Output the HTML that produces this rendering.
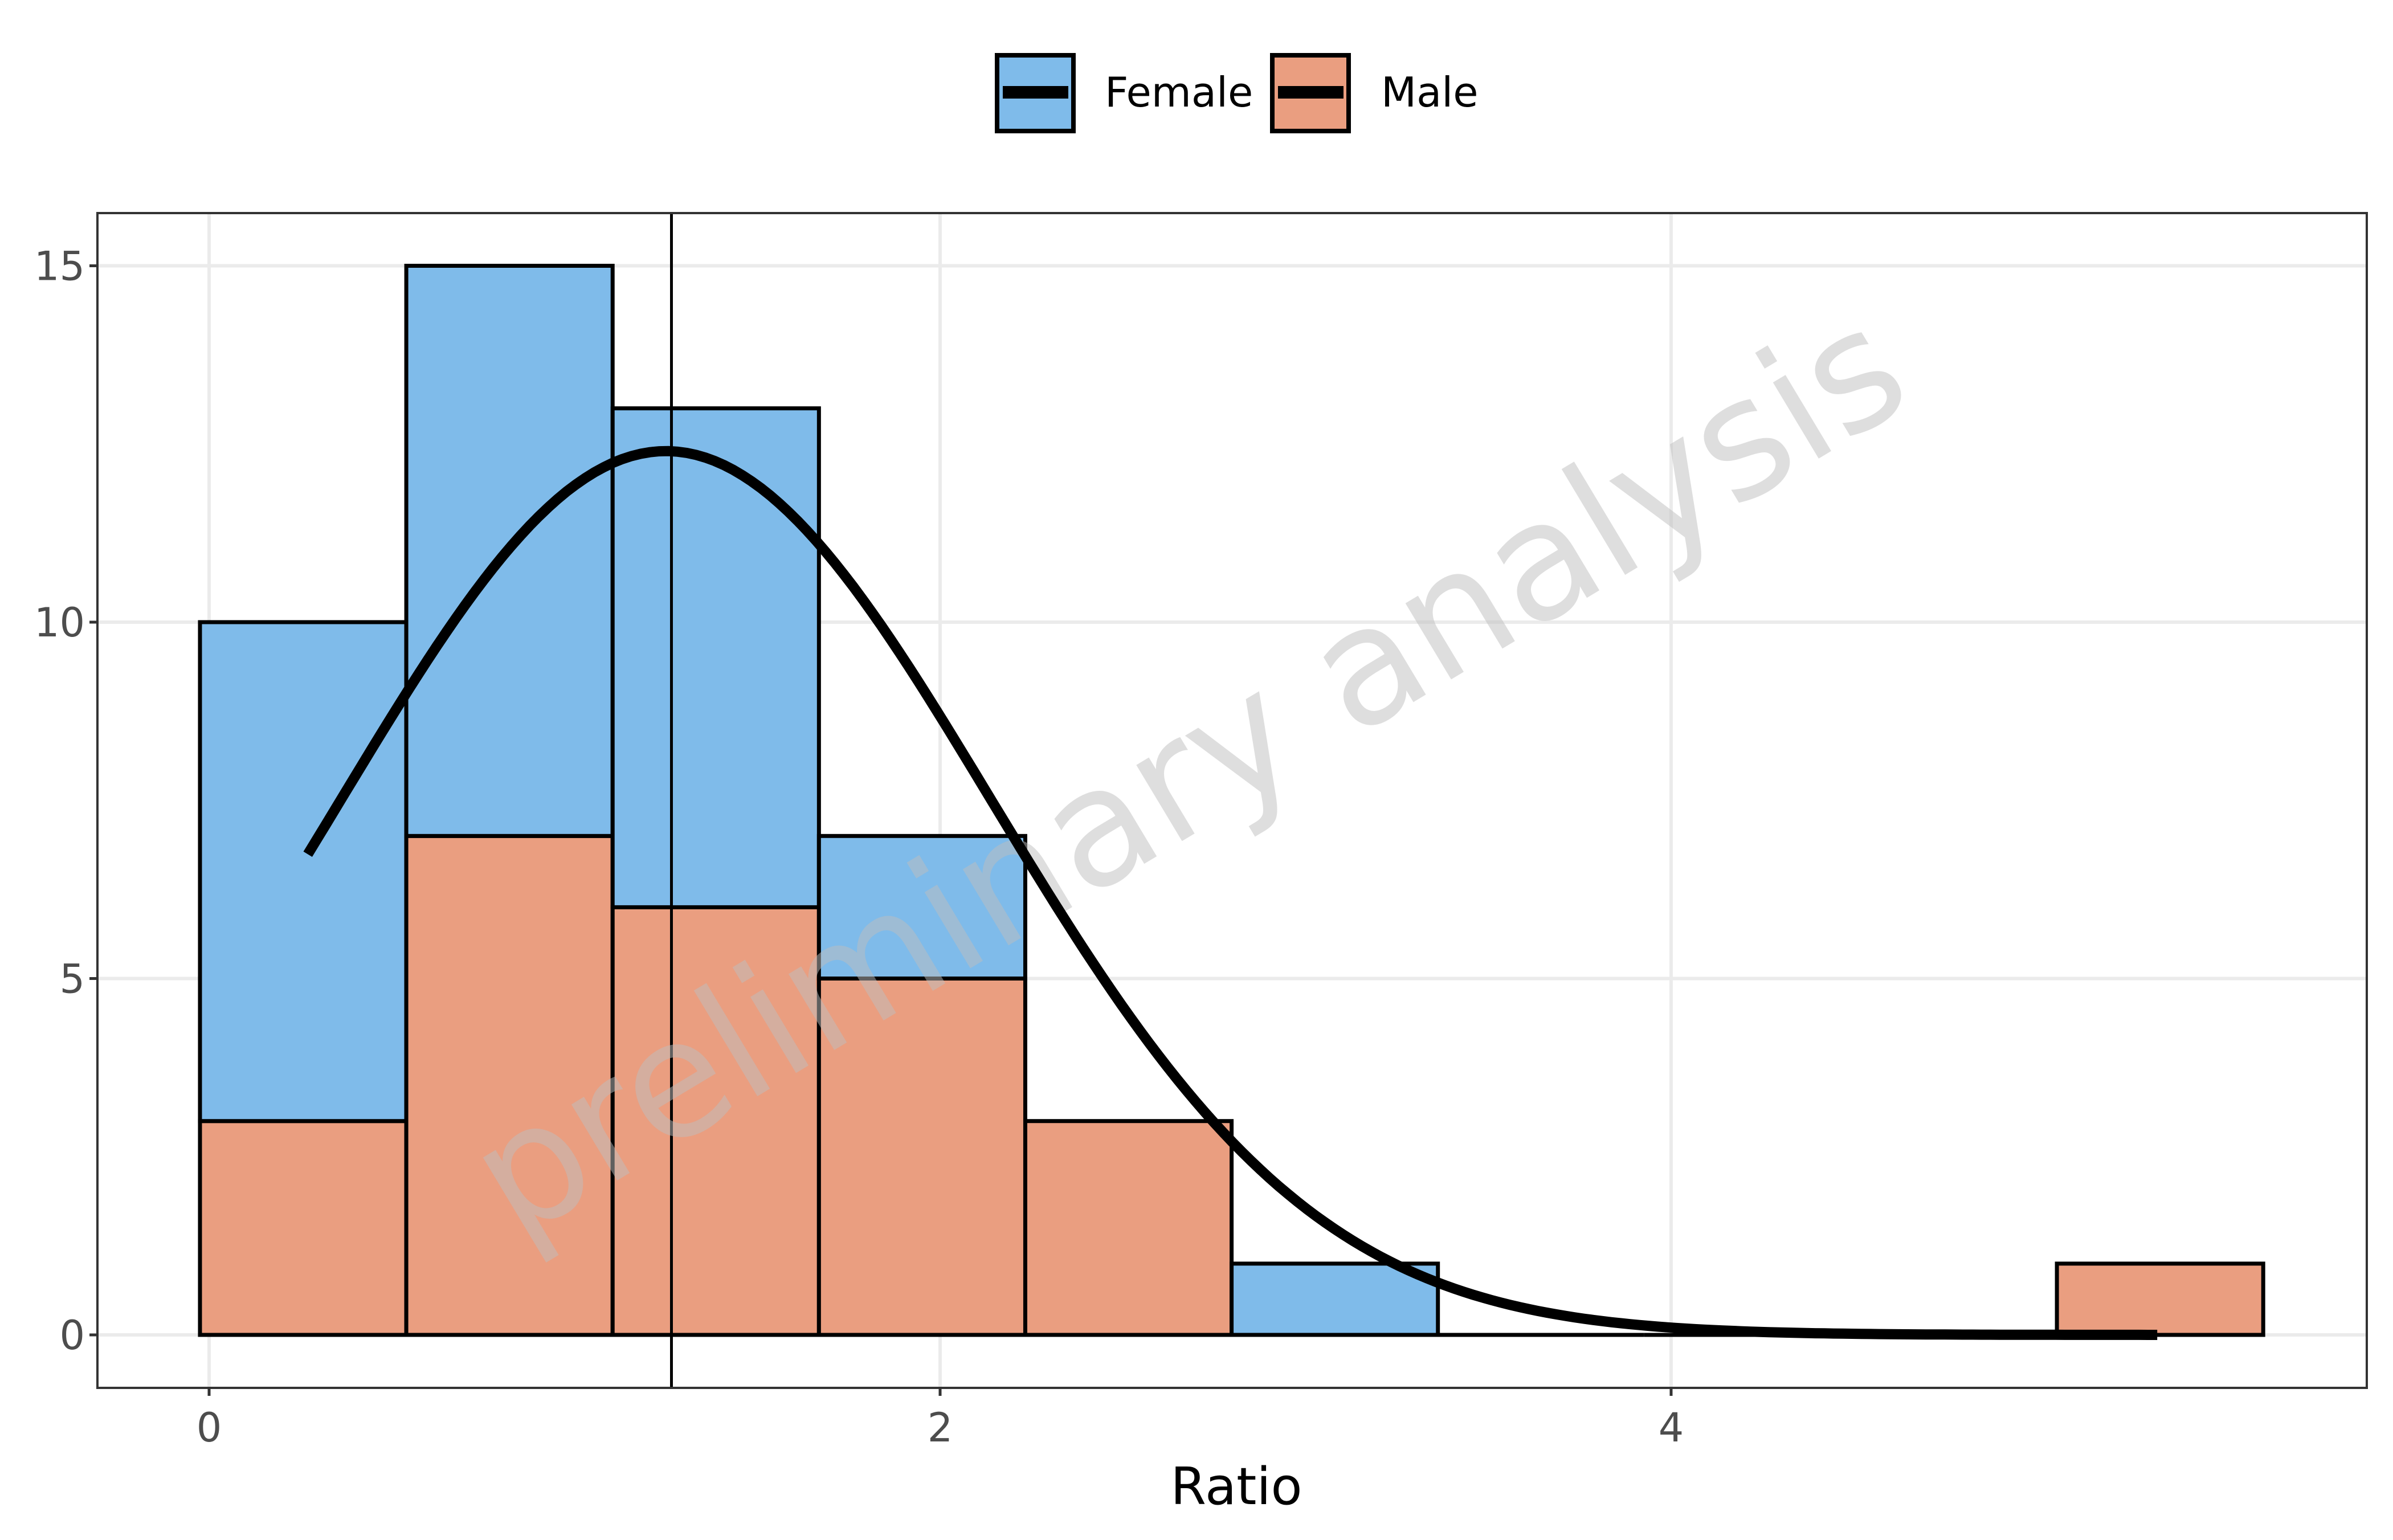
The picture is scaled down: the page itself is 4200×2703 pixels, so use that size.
<!DOCTYPE html>
<html><head><meta charset="utf-8"><style>
html,body{margin:0;padding:0;background:#fff}
svg{display:block;font-family:"DejaVu Sans","Liberation Sans",sans-serif}
</style></head><body>
<svg id="chart" width="4200" height="2703" viewBox="0 0 4200 2703">
<g id="legend">
  <g>
    <rect x="1750" y="97" width="134" height="133" fill="#7fbbea" stroke="#000" stroke-width="8"/>
    <rect x="1760" y="151" width="115" height="22" fill="#000"/>
    <text x="1939" y="187" font-size="72" fill="#000">Female</text>
  </g>
  <g>
    <rect x="2233" y="97" width="134" height="133" fill="#ea9e80" stroke="#000" stroke-width="8"/>
    <rect x="2243" y="151" width="115" height="22" fill="#000"/>
    <text x="2424" y="187" font-size="72" fill="#000">Male</text>
  </g>
</g>
<g id="grid"></g>
<g id="bars"></g>
<g id="overlay"></g>
<rect x="171" y="374" width="3983" height="2062" fill="none" stroke="#333" stroke-width="4"/>
<g id="axes"></g>
<text x="2170" y="2640" font-size="90" text-anchor="middle" fill="#000">Ratio</text>
</svg>
<script>
const binStart = -0.025;
const binWidth = 0.5645;
const maleCounts = [3,7,6,5,3,0,0,0,0,1];
const femaleCounts = [7,8,7,2,0,1,0,0,0,0];
const xTicks = [0,2,4];
const yTicks = [0,5,10,15];
const vlineX = 1.265;
const fitMean = 1.25;
const fitSd = 0.888;
const fitPeak = 12.4;
const fitRange = [0.27, 5.33];

const NS = "http://www.w3.org/2000/svg";
const X = v => 367 + v*641.5;
const Y = v => 2343 - v*125.1;
const PL=171, PR=4154, PT=374, PB=2436;
function mk(tag, attrs, parent){const e=document.createElementNS(NS,tag);for(const k in attrs)e.setAttribute(k,attrs[k]);parent.appendChild(e);return e;}
const grid=document.getElementById('grid'), bars=document.getElementById('bars'), ov=document.getElementById('overlay'), axes=document.getElementById('axes');

yTicks.forEach(t=>{
  const g=mk('line',{x1:PL,x2:PR,y1:Y(t),y2:Y(t),stroke:'#ebebeb','stroke-width':6},grid);
  
  
  const tk=mk('line',{x1:PL-14,x2:PL,y1:Y(t),y2:Y(t),stroke:'#333','stroke-width':5},axes);
  
  
  const lb=mk('text',{x:PL-22,y:Y(t)+25,'font-size':70,'text-anchor':'end',fill:'#4d4d4d'},axes);
  lb.textContent=t;
  
  
});
xTicks.forEach(t=>{
  const g=mk('line',{x1:X(t),x2:X(t),y1:PT,y2:PB,stroke:'#ebebeb','stroke-width':6},grid);
  
  
  const tk=mk('line',{x1:X(t),x2:X(t),y1:PB,y2:PB+14,stroke:'#333','stroke-width':5},axes);
  
  
  const lb=mk('text',{x:X(t),y:2530,'font-size':70,'text-anchor':'middle',fill:'#4d4d4d'},axes);
  lb.textContent=t;
  
  
});

maleCounts.forEach((m,i)=>{
  const f=femaleCounts[i];
  const x0=X(binStart+i*binWidth), x1=X(binStart+(i+1)*binWidth);
  if(f+m===0){
    const z=mk('line',{x1:x0,x2:x1,y1:Y(0),y2:Y(0),stroke:'#000','stroke-width':7},bars);
    
    
    return;
  }
  const rm=mk('rect',{x:x0,y:Y(m),width:x1-x0,height:Y(0)-Y(m),fill:'#ea9e80',stroke:'#000','stroke-width':7},bars);
  
  
  if(f>0){
    const rf=mk('rect',{x:x0,y:Y(m+f),width:x1-x0,height:Y(m)-Y(m+f),fill:'#7fbbea',stroke:'#000','stroke-width':7},bars);
    
    
  }
});

const vl=mk('line',{x1:X(vlineX),x2:X(vlineX),y1:PT,y2:PB,stroke:'#000','stroke-width':5},ov);



const wm=mk('text',{x:0,y:0,'font-size':285,'text-anchor':'middle',fill:'#bdbdbd','fill-opacity':0.5,transform:'translate(2135,1440) rotate(-31)'},ov);
wm.textContent='preliminary analysis';



let d='';
for(let k=0;k<=200;k++){
  const xv=fitRange[0]+(fitRange[1]-fitRange[0])*k/200;
  const yv=fitPeak*Math.exp(-Math.pow(xv-fitMean,2)/(2*fitSd*fitSd));
  d+=(k?'L':'M')+X(xv).toFixed(1)+','+Y(yv).toFixed(1);
}
const cv=mk('path',{d:d,fill:'none',stroke:'#000','stroke-width':18},ov);


</script>
</body></html>
